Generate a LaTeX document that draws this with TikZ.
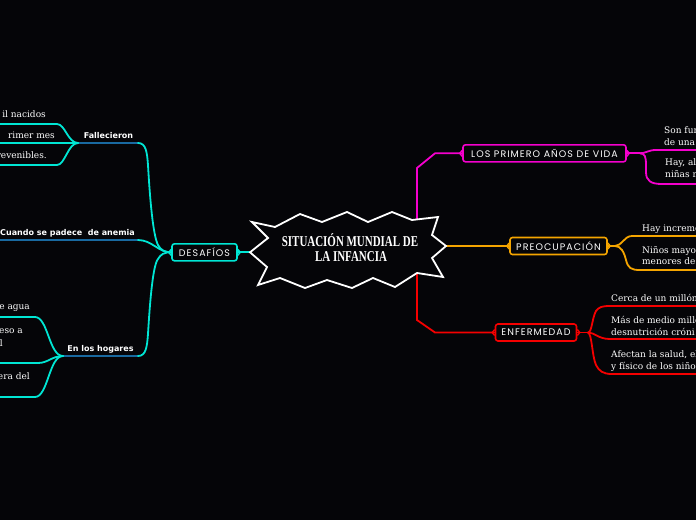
\documentclass[tikz,border=0pt]{standalone}
\usepackage{fontspec}
\newfontfamily\titlefam[FakeStretch=0.73]{Liberation Serif}
\newfontfamily\boxfam[LetterSpace=11]{Poppins}
\newfontfamily\labfam{DejaVu Sans}
\newfontfamily\leaffam{DejaVu Serif}
\definecolor{bg}{RGB}{5,5,8}
\definecolor{cy}{RGB}{0,230,212}
\definecolor{bl}{RGB}{25,105,160}
\definecolor{mg}{RGB}{245,0,205}
\definecolor{orng}{RGB}{245,165,0}
\definecolor{rd}{RGB}{245,0,0}
\begin{document}
\begin{tikzpicture}[x=1pt,y=-1pt,
  conn/.style={line width=1.8pt, line cap=round},
  cyl/.style={conn, draw=cy},
  bll/.style={conn, draw=bl},
  mgl/.style={conn, draw=mg},
  ogl/.style={conn, draw=orng},
  rdl/.style={conn, draw=rd},
  boxn/.style={draw, line width=1.6pt, rounded corners=2.5pt, fill=bg, text=white,
    font={\boxfam\fontsize{9.5}{10}\selectfont}, inner sep=0pt, minimum height=17pt},
  leaf/.style={text=white, font={\leaffam\fontsize{9}{12}\selectfont}, inner sep=0pt},
  lab/.style={text=white, font={\labfam\bfseries\fontsize{8}{10}\selectfont}, inner sep=0pt},
  ttl/.style={text=white, font={\titlefam\bfseries\fontsize{15}{16}\selectfont}, inner sep=0pt},
  star/.style={draw=white, fill=bg, line width=1.8pt, line join=miter}]
\fill[bg] (0,0) rectangle (696,520);
\useasboundingbox (0,0) rectangle (696,520);

% star anchor points
\coordinate (sL) at (250,252.3);
\coordinate (sR) at (446,246);
\coordinate (sT) at (417,219.5);
\coordinate (sB) at (417,273.2);

% boxes
\node[boxn, draw=cy, minimum width=65pt] (des) at (204.5,252.3) {DESAFÍOS};
\node[boxn, draw=mg, minimum width=163pt] (lpa) at (544.5,153.3) {LOS PRIMERO AÑOS DE VIDA};
\node[boxn, draw=orng, minimum width=97pt] (pre) at (558.5,246) {PREOCUPACIÓN};
\node[boxn, draw=rd, minimum width=81pt] (enf) at (536,332.5) {ENFERMEDAD};

% main connectors
\draw[cyl] (sL) -- (des.east);
\draw[mgl] (sT) -- (417,168) -- (435,153.3) -- (lpa.west);
\draw[ogl] (sR) -- (pre.west);
\draw[rdl] (sB) -- (417,320) -- (435,332.5) -- (enf.west);

% right: magenta branches
\coordinate (mj) at (640,153.3);
\coordinate (m1e) at (698,150);
\coordinate (m2e) at (698,184);
\draw[mgl] (lpa.east) -- (mj);
\draw[mgl] (mj) .. controls (646,153.3) and (648,150) .. (656,150) -- (m1e);
\draw[mgl] (mj) .. controls (645,153.3) and (646,157) .. (646,165) -- (646,172) .. controls (646,181) and (651,184) .. (662,184) -- (m2e);

% right: orange branches
\coordinate (oj) at (615,246);
\coordinate (o1e) at (698,236);
\coordinate (o2e) at (698,270);
\draw[ogl] (pre.east) -- (oj);
\draw[ogl] (oj) .. controls (622,246) and (624,236) .. (632,236) -- (o1e);
\draw[ogl] (oj) .. controls (621,246) and (624,252) .. (626,260) .. controls (628,268) and (631,270) .. (640,270) -- (o2e);

% right: red branches
\coordinate (rj) at (588,332.5);
\coordinate (r1e) at (698,306);
\coordinate (r2e) at (698,339);
\coordinate (r3e) at (698,374);
\draw[rdl] (enf.east) -- (rj);
\draw[rdl] (rj) .. controls (592,332.5) and (592,318) .. (596,311) .. controls (599,307) and (602,306) .. (610,306) -- (r1e);
\draw[rdl] (rj) .. controls (595,332.5) and (598,339) .. (610,339) -- (r2e);
\draw[rdl] (rj) .. controls (592,334) and (592,356) .. (596,365) .. controls (599,371) and (603,374) .. (612,374) -- (r3e);

% left: main branches
\coordinate (fu1) at (78,143);
\coordinate (fu2) at (138,143);
\coordinate (au1) at (-3,240);
\coordinate (au2) at (138,240);
\coordinate (hu1) at (63,356);
\coordinate (hu2) at (138,356);
\draw[bll] (fu1) -- (fu2);
\draw[bll] (au1) -- (au2);
\draw[bll] (hu1) -- (hu2);
\draw[cyl] (fu2) .. controls (146,143) and (147,152) .. (148,165) .. controls (150,200) and (153,235) .. (158,245) .. controls (161,250) and (164,252.3) .. (des.west);
\draw[cyl] (au2) .. controls (152,240) and (158,252.3) .. (des.west);
\draw[cyl] (hu2) .. controls (146,356) and (147,347) .. (148,334) .. controls (150,300) and (153,265) .. (158,259) .. controls (161,254) and (164,252.3) .. (des.west);

% left: leaves of Fallecieron
\coordinate (fl1) at (-3,124);
\coordinate (fl2) at (-3,143);
\coordinate (fl3) at (-3,165);
\draw[cyl] (fl1) -- (57,124) .. controls (65,124) and (68,143) .. (fu1);
\draw[cyl] (fl2) -- (fu1);
\draw[cyl] (fl3) -- (57,165) .. controls (65,165) and (68,143) .. (fu1);

% left: leaves of En los hogares
\coordinate (hl1) at (-3,317);
\coordinate (hl2) at (-3,363);
\coordinate (hl3) at (-3,397);
\draw[cyl] (hl1) -- (35,317) .. controls (48,317) and (49,356) .. (hu1);
\draw[cyl] (hl2) -- (38,363) .. controls (48,363) and (52,356) .. (hu1);
\draw[cyl] (hl3) -- (35,397) .. controls (48,397) and (49,356) .. (hu1);

% notches on the boxes
\foreach \n/\c in {des/cy,lpa/mg,pre/orng,enf/rd}{
  \draw[draw=\c, line width=1.4pt, line join=round] ([yshift=3pt]\n.west) -- ++(-2.5,3) -- ++(2.5,3);
  \draw[draw=\c, line width=1.4pt, line join=round] ([yshift=3pt]\n.east) -- ++(2.5,3) -- ++(-2.5,3);
}

% central starburst
\draw[star] (252,222) -- (275,227) -- (300,214) -- (322,222) -- (347,212) -- (368,222)
  -- (392,212) -- (412,220) -- (438,217) -- (432,235) -- (446,246) -- (432,258)
  -- (443,277) -- (417,273) -- (395,287) -- (373,278) -- (352,288) -- (327,280)
  -- (305,288) -- (280,278) -- (258,285) -- (267,267) -- (250,252.3) -- (268,238) -- cycle;
\node[ttl, anchor=base] (tt1) at (350,246.5) {SITUACIÓN MUNDIAL DE};
\node[ttl, anchor=base] (tt2) at (351,261.5) {LA INFANCIA};

% labels
\node[lab, anchor=base] (fal) at (108.5,138.5) {Fallecieron};
\node[lab, anchor=base east] (ane) at (135,235) {Cuando se padece~ de anemia};
\node[lab, anchor=base] (hog) at (100.5,351.5) {En los hogares};

% left leaf texts
\node[leaf, anchor=base east] (t1) at (46,117) {il nacidos};
\node[leaf, anchor=base east] (t2) at (55,138) {rimer mes};
\node[leaf, anchor=base east] (t3) at (47,158.5) {revenibles.};
\node[leaf, anchor=base east] (t4) at (30,309.5) {de agua};
\node[leaf, anchor=base east] (t5) at (23,333) {eso a};
\node[leaf, anchor=base east] (t6) at (3,346) {l};
\node[leaf, anchor=base east] (t7) at (30,379) {era del};

% right leaf texts
\node[leaf, anchor=base west] (r1a) at (664,133) {Son fun};
\node[leaf, anchor=base west] (r1b) at (664,145) {de una};
\node[leaf, anchor=base west] (r2a) at (665,165) {Hay, alr};
\node[leaf, anchor=base west] (r2b) at (665,177) {niñas m};
\node[leaf, anchor=base west] (o1) at (642,231.5) {Hay increme};
\node[leaf, anchor=base west] (o2a) at (642,253) {Niños mayor};
\node[leaf, anchor=base west] (o2b) at (642,264.5) {menores de};
\node[leaf, anchor=base west] (e1) at (611,301.5) {Cerca de un millón};
\node[leaf, anchor=base west] (e2a) at (611,323) {Más de medio millón};
\node[leaf, anchor=base west] (e2b) at (611,335) {desnutrición cróni};
\node[leaf, anchor=base west] (e3a) at (611,357) {Afectan la salud, el};
\node[leaf, anchor=base west] (e3b) at (611,369.5) {y físico de los niño};
\end{tikzpicture}
\end{document}
